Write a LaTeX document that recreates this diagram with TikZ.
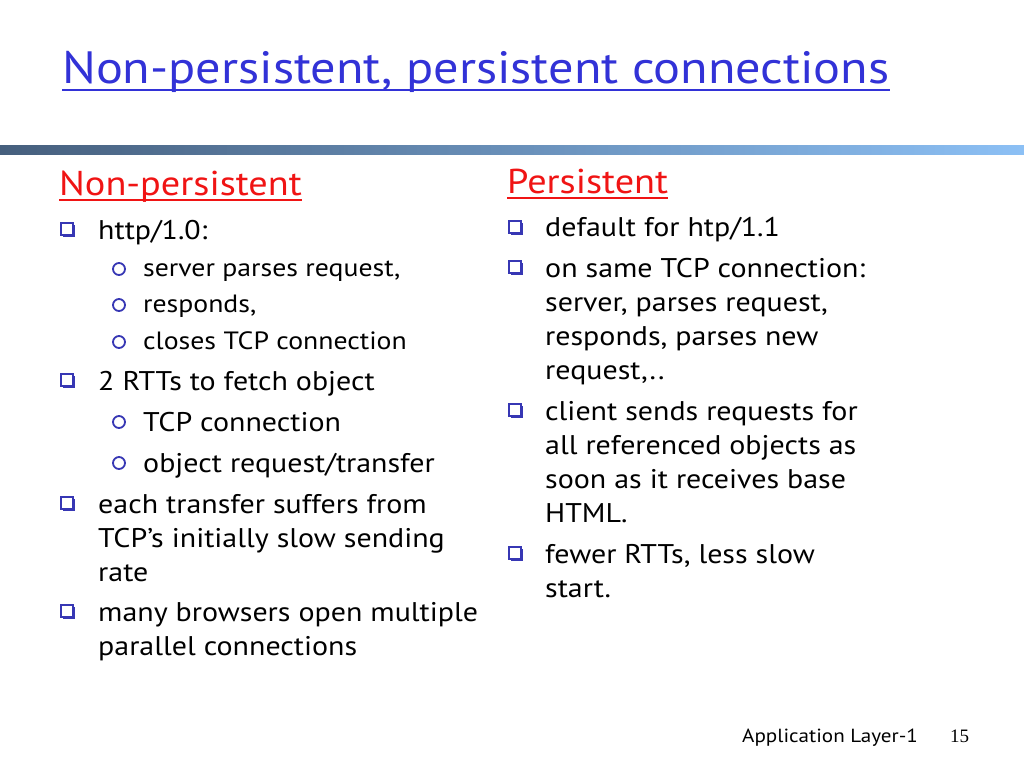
\documentclass[tikz,border=0pt]{standalone}
\usepackage{fontspec}
\setmainfont{PT Sans}[FakeStretch=1.11]
\newfontfamily\pagefont{Liberation Serif}
\usetikzlibrary{positioning,shadows}
\definecolor{titleblue}{RGB}{50,50,215}
\definecolor{headred}{RGB}{240,20,20}
\definecolor{bulletblue}{RGB}{55,55,180}
\definecolor{bardark}{RGB}{70,95,125}
\definecolor{barlight}{RGB}{140,192,245}

\begin{document}
\begin{tikzpicture}[x=1pt, y=-1pt]
		\tikzstyle{body} = [anchor=base west, inner sep=0pt, font=\fontsize{27}{34}\selectfont]
		\tikzstyle{small} = [anchor=base west, inner sep=0pt, font=\fontsize{25}{30}\selectfont]
		\tikzstyle{head} = [anchor=base west, inner sep=0pt, text=headred, font=\fontsize{34.5}{38}\selectfont]
		\tikzstyle{sqbullet} = [draw=bulletblue, line width=1.3pt, fill=white, minimum size=12pt, inner sep=0pt,
			drop shadow={shadow xshift=2pt, shadow yshift=-2pt, fill=bulletblue, opacity=1}]
		\tikzstyle{cbullet} = [circle, draw=bulletblue, line width=1.8pt, minimum size=12pt, inner sep=0pt]

		\useasboundingbox (0,0) rectangle (1024,768);
		\fill[white] (0,0) rectangle (1024,768);

		% title and bar
		\node[anchor=base west, inner sep=0pt, text=titleblue, font=\fontsize{45.3}{50}\selectfont] (title) at (62,83) {Non-persistent, persistent connections};
		\draw[titleblue, line width=2.2pt] ([yshift=-7pt]title.base west) -- ([yshift=-7pt]title.base east);
		\shade[left color=bardark, right color=barlight] (0,145) rectangle (1024,154);

		% left column
		\node[head] (nonpers) at (59,195) {Non-persistent};
		\draw[headred, line width=2pt] ([yshift=-5pt]nonpers.base west) -- ([yshift=-5pt]nonpers.base east);

		\node[sqbullet] (b1) at (67,229) {};
		\node[body] (np1) at (98,239) {http/1.0:};
		\node[cbullet] (c1) at (119,269) {};
		\node[small] (np1a) at (143,276) {server parses request,};
		\node[cbullet] (c2) at (119,305) {};
		\node[small] (np1b) at (143,312) {responds,};
		\node[cbullet] (c3) at (119,342) {};
		\node[small] (np1c) at (143,349) {closes TCP connection};

		\node[sqbullet] (b2) at (67,380) {};
		\node[body] (np2) at (98,390) {2 RTTs to fetch object};
		\node[cbullet] (c4) at (119,422) {};
		\node[body] (np2a) at (143,431) {TCP connection};
		\node[cbullet] (c5) at (119,463) {};
		\node[body] (np2b) at (143,472) {object request/transfer};

		\node[sqbullet] (b3) at (67,503) {};
		\node[body] (np3) at (98,513) {each transfer suffers from};
		\node[body] (np3b) at (98,547) {TCP’s initially slow sending};
		\node[body] (np3c) at (98,581) {rate};

		\node[sqbullet] (b4) at (67,611) {};
		\node[body] (np4) at (98,621) {many browsers open multiple};
		\node[body] (np4b) at (98,655) {parallel connections};

		% right column
		\node[head] (pers) at (507,193) {Persistent};
		\draw[headred, line width=2pt] ([yshift=-5pt]pers.base west) -- ([yshift=-5pt]pers.base east);

		\node[sqbullet] (r1) at (515,227) {};
		\node[body] (p1) at (545,236) {default for htp/1.1};

		\node[sqbullet] (r2) at (515,267) {};
		\node[body] (p2) at (545,277) {on same TCP connection:};
		\node[body] (p2b) at (545,311) {server, parses request,};
		\node[body] (p2c) at (545,345) {responds, parses new};
		\node[body] (p2d) at (545,379) {request,..};

		\node[sqbullet] (r3) at (515,410) {};
		\node[body] (p3) at (545,420) {client sends requests for};
		\node[body] (p3b) at (545,454) {all referenced objects as};
		\node[body] (p3c) at (545,488) {soon as it receives base};
		\node[body] (p3d) at (545,522) {HTML.};

		\node[sqbullet] (r4) at (515,553) {};
		\node[body] (p4) at (545,563) {fewer RTTs, less slow};
		\node[body] (p4b) at (545,597) {start.};

		% footer
		\node[anchor=base west, inner sep=0pt, font=\fontsize{19}{22}\selectfont] (footer) at (742,742) {Application Layer-1};
		\node[anchor=base west, inner sep=0pt, font=\pagefont\fontsize{19}{22}\selectfont] (pageno) at (950,742) {15};
\end{tikzpicture}
\end{document}
